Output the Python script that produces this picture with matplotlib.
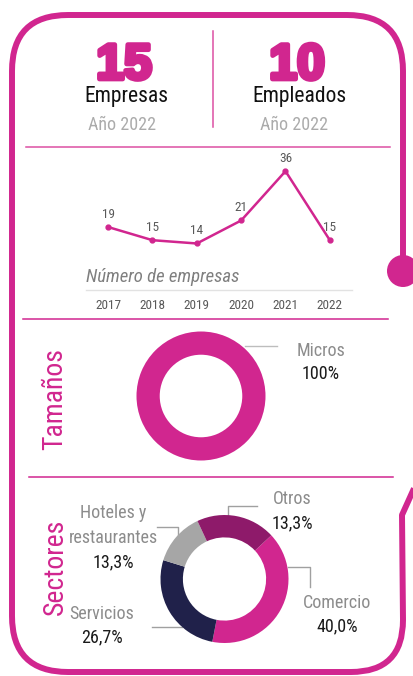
import matplotlib
matplotlib.use("Agg")
import matplotlib.pyplot as plt
from matplotlib import font_manager as fm
from matplotlib.path import Path
from matplotlib.patches import PathPatch, Circle
import matplotlib.patheffects as pe

# ---------------- data ----------------
years = ["2017", "2018", "2019", "2020", "2021", "2022"]
empresas = [19, 15, 14, 21, 36, 15]

kpi_values = ["15", "10"]
kpi_names = ["Empresas", "Empleados"]
kpi_year = "Año 2022"

size_names = ["Micros"]
size_shares = [100]
size_labels = ["100%"]

sector_names = ["Comercio", "Servicios", "Hoteles y\nrestaurantes", "Otros"]
sector_shares = [40.0, 26.7, 13.3, 20.0]          # wedge sizes as drawn
sector_labels = ["40,0%", "26,7%", "13,3%", "13,3%"]  # printed labels

# ---------------- style ----------------
MAG = "#D1268F"
MAG_LIGHT = "#DC4FA3"
PLUM = "#8E1A6A"
NAVY = "#20214A"
GREY = "#A6A6A6"
LBL = "#8C8C8C"

# pick a narrow/condensed sans if one exists, else shrink Liberation Sans
entries = fm.fontManager.ttflist
names = {f.name for f in entries}
NARROW, STRETCH, K = "Liberation Sans", "normal", 0.85
for cand in ["Liberation Sans Narrow", "Arial Narrow", "Roboto Condensed",
             "Open Sans Condensed", "Noto Sans Condensed"]:
    if cand in names:
        NARROW, STRETCH, K = cand, "normal", 1.0
        break
else:
    for f in entries:
        if f.name in ("Noto Sans", "Open Sans", "Roboto") and f.stretch in (
                "condensed", "semi-condensed") and f.style == "normal":
            NARROW, STRETCH, K = f.name, "condensed", 0.97
            break
WIDE = "Liberation Sans"


def fs(x):
    return x * K


def T(**kw):
    d = dict(family=NARROW, stretch=STRETCH)
    d.update(kw)
    return d


W, H = 414, 676
fig = plt.figure(figsize=(W / 100, H / 100), dpi=100)
fig.patch.set_facecolor("white")

bg = fig.add_axes([0, 0, 1, 1])
bg.set_xlim(0, W)
bg.set_ylim(H, 0)
bg.axis("off")


def px_axes(x0, y0, x1, y1):
    """axes from pixel box (top-left origin)"""
    return fig.add_axes([x0 / W, (H - y1) / H, (x1 - x0) / W, (y1 - y0) / H])


# ---------------- border ----------------
R = 56
L, Tp, Rx, B = 12, 15, 403, 672
verts = [
    (Rx, 257), (Rx, Tp + R),
    (Rx, Tp), (Rx - R, Tp),
    (L + R, Tp),
    (L, Tp), (L, Tp + R),
    (L, B - R),
    (L, B), (L + R, B),
    (Rx - R + 4, B),
    (Rx, B), (Rx, B - R + 4),
    (Rx - 1, 515), (416, 484),
]
codes = [Path.MOVETO, Path.LINETO,
         Path.CURVE3, Path.CURVE3,
         Path.LINETO,
         Path.CURVE3, Path.CURVE3,
         Path.LINETO,
         Path.CURVE3, Path.CURVE3,
         Path.LINETO,
         Path.CURVE3, Path.CURVE3,
         Path.LINETO, Path.LINETO]
bg.add_patch(PathPatch(Path(verts, codes), fill=False, edgecolor=MAG, lw=4.3,
                       capstyle="butt", joinstyle="round"))
bg.add_patch(Circle((403, 271), 16, color=MAG, lw=0))

# ---------------- header ----------------
bg.plot([213, 213], [31, 127], color=MAG_LIGHT, lw=1.1)
for cx, val, name, ycx in zip([124, 297], kpi_values, kpi_names, [122, 294]):
    bg.text(cx, 79, val, ha="center", va="baseline", fontsize=36, fontweight="bold",
            family=WIDE, color=MAG,
            path_effects=[pe.withStroke(linewidth=3.4, foreground=MAG)])
    bg.text(cx + 2, 102, name, ha="center", va="baseline", fontsize=fs(15.5),
            color="#111111", **T())
    bg.text(ycx, 130, kpi_year, ha="center", va="baseline", fontsize=fs(13),
            color="#ABABAB", **T())

bg.plot([26, 390], [147, 147], color=MAG_LIGHT, lw=1.1)

# ---------------- line chart ----------------
ax = px_axes(86, 160, 352, 289.5)
xs = range(len(years))
ax.plot(xs, empresas, color=MAG, lw=1.8, marker="o", ms=3.5, zorder=3)
for x, v in zip(xs, empresas):
    ax.annotate(str(v), (x, v), xytext=(0, 9), textcoords="offset points",
                ha="center", va="center", fontsize=fs(9.5), color="#595959", **T())
ax.set_xlim(-0.5, len(years) - 0.5)
ax.set_ylim(0, 39.4)
ax.set_xticks(list(xs))
ax.set_xticklabels(years, fontsize=fs(9.5), color="#595959", **T())
ax.set_yticks([])
ax.tick_params(axis="x", length=0, pad=7)
for s in ["top", "left", "right"]:
    ax.spines[s].set_visible(False)
ax.spines["bottom"].set_color("#E2E2E2")
ax.spines["bottom"].set_linewidth(1)
ax.patch.set_alpha(0)
bg.text(86, 277, "Número de empresas", ha="left", va="center", fontsize=fs(13.5),
        style="italic", color="#7F7F7F", **T())

bg.plot([23, 388], [319, 319], color=MAG, lw=1.1)

# ---------------- Tamaños ----------------
bg.text(55, 399, "Tamaños", rotation=90, ha="center", va="center", fontsize=fs(20),
        color=MAG, **T())
cx, cy, rr = 201, 396, 64.5
a1 = px_axes(cx - rr, cy - rr, cx + rr, cy + rr)
a1.pie(size_shares, colors=[MAG], radius=1, startangle=90, counterclock=False,
       wedgeprops=dict(width=0.36, linewidth=0))
a1.set_xlim(-1, 1)
a1.set_ylim(-1, 1)
a1.set_aspect("auto")
a1.axis("off")
bg.plot([245, 277], [346, 346], color="#BDBDBD", lw=1)
bg.text(321, 351, size_names[0], ha="center", va="center", fontsize=fs(13),
        color=LBL, **T())
bg.text(321, 374, size_labels[0], ha="center", va="center", fontsize=fs(13),
        color="#1A1A1A", **T())

bg.plot([29, 393], [477, 477], color=MAG, lw=1.1)

# ---------------- Sectores ----------------
bg.text(55, 567, "Sectores", rotation=90, ha="center", va="center", fontsize=fs(20),
        color=MAG, **T())
cx, cy, rr = 224.5, 579, 64
a2 = px_axes(cx - rr, cy - rr, cx + rr, cy + rr)
a2.pie(sector_shares, colors=[MAG, NAVY, GREY, PLUM], radius=1, startangle=43,
       counterclock=False, wedgeprops=dict(width=0.35, linewidth=0))
a2.set_xlim(-1, 1)
a2.set_ylim(-1, 1)
a2.set_aspect("auto")
a2.axis("off")

lc = "#A0A0A0"
bg.plot([228, 228, 257], [515, 506, 506], color=lc, lw=1)      # Otros
bg.plot([288, 310, 310], [567, 567, 587], color=lc, lw=1)      # Comercio
bg.plot([152, 182], [627, 627], color=lc, lw=1)                # Servicios
bg.plot([178, 178, 157], [535, 527, 527], color=lc, lw=1)      # Hoteles

label_pos = {
    "Comercio": [(337, 603), (337, 626)],
    "Servicios": [(102, 614), (102, 637)],
    "Otros": [(292, 499), (292, 523)],
}
for name, lab in zip(sector_names, sector_labels):
    if name in label_pos:
        (nx, ny), (px, py) = label_pos[name]
        bg.text(nx, ny, name, ha="center", va="center", fontsize=fs(13), color=LBL, **T())
        bg.text(px, py, lab, ha="center", va="center", fontsize=fs(13), color="#1A1A1A", **T())
    else:
        l1, l2 = name.split("\n")
        bg.text(113, 513, l1, ha="center", va="center", fontsize=fs(13), color=LBL, **T())
        bg.text(113, 538, l2, ha="center", va="center", fontsize=fs(13), color=LBL, **T())
        bg.text(113, 562, lab, ha="center", va="center", fontsize=fs(13), color="#1A1A1A", **T())

fig.savefig("out.png", dpi=100, facecolor="white")
